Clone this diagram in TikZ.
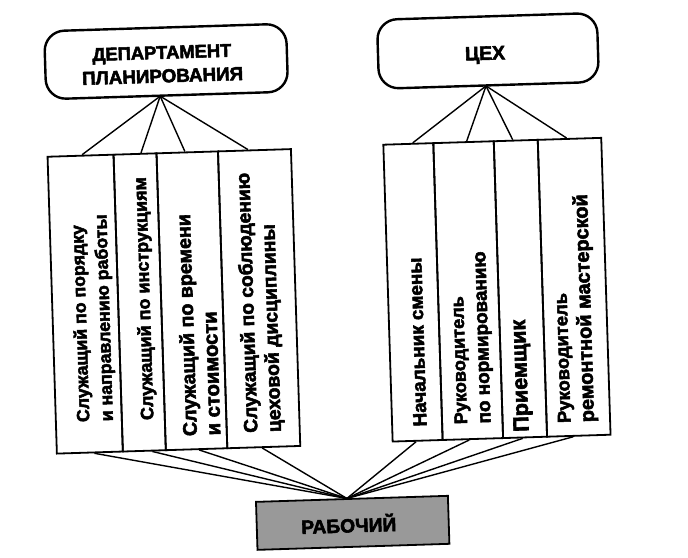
\documentclass[tikz,border=0pt]{standalone}
\usepackage{fontspec}
\setmainfont{Liberation Sans}[BoldFeatures={FakeBold=2.8}]
\newcommand\fitw[2]{\resizebox{#1pt}{!}{#2}}
\begin{document}
\begin{tikzpicture}[x=1pt,y=-1pt,
  topbox/.style={draw, line width=2.4pt, rounded corners=20pt, inner sep=0pt},
  toptext/.style={inner sep=0pt, align=center, font=\bfseries\fontsize{18}{23.7}\selectfont},
  col/.style={draw, line width=1.8pt, minimum height=297pt, inner sep=0pt},
  coltext/.style={rotate=90, anchor=west, align=left, inner sep=0pt,
    font=\bfseries\fontsize{18}{23.5}\selectfont},
  link/.style={line width=1.4pt},
  workbox/.style={draw, line width=1.8pt, fill=black!40, minimum width=192pt, minimum height=48pt,
    inner sep=0pt}]
\useasboundingbox (0,0) rectangle (688,557);
\begin{scope}[rotate around={1.8:(344,278)}, transform shape]
  % top boxes
  \node[topbox, minimum width=242pt, minimum height=68pt] (dp) at (173,56) {};
  \node[toptext] (dpt) at (169,58.8) {\fitw{139}{ДЕПАРТАМЕНТ}\\\fitw{161}{ПЛАНИРОВАНИЯ}};
  \node[topbox, minimum width=220pt, minimum height=69pt] (cx) at (495,55.5) {};
  \node[toptext, anchor=base] (cxt) at (492,64.4) {\fitw{40}{ЦЕХ}};
  \coordinate (dpb) at (166,90.5);
  \coordinate (cxb) at (492,90.5);
  % left columns
  \node[col, minimum width=66pt] (l1) at (84.5,296) {};
  \node[col, minimum width=43pt] (l2) at (139,296) {};
  \node[col, minimum width=61.5pt] (l3) at (191.25,296) {};
  \node[col, minimum width=73pt] (l4) at (258.5,296) {};
  % right columns
  \node[col, minimum width=50pt] (r1) at (412.5,294.5) {};
  \node[col, minimum width=60.5pt] (r2) at (467.75,294.5) {};
  \node[col, minimum width=44pt] (r3) at (520,294.5) {};
  \node[col, minimum width=63.5pt] (r4) at (573.75,294.5) {};
  % column texts
  \node[coltext] (t1) at (92,414) {\fitw{197}{Служащий по порядку}\\\fitw{207}{и направлению работы}};
  \node[coltext] (t2) at (144.3,414) {\fitw{243}{Служащий по инструкциям}};
  \node[coltext] (t3) at (196.6,431.4) {\fitw{222}{Служащий по времени}\\\fitw{124}{и стоимости}};
  \node[coltext] (t4) at (259.2,430) {\fitw{260}{Служащий по соблюдению}\\\fitw{208}{цеховой дисциплины}};
  \node[coltext] (t5) at (415.5,429) {\fitw{169}{Начальник смены}};
  \node[coltext] (t6) at (470,428) {\fitw{128}{Руководитель}\\\fitw{172}{по нормированию}};
  \node[coltext] (t7) at (518.5,437.5) {\fitw{112}{Приемщик}};
  \node[coltext] (t8) at (573.5,430) {\fitw{130}{Руководитель}\\\fitw{228}{ремонтной мастерской}};
  % worker
  \node[workbox] (rab) at (345,523) {};
  \node[toptext, anchor=base] (rabtxt) at (341,532.5) {\fitw{95}{РАБОЧИЙ}};
  \coordinate (rabc) at (340,498.5);
  % connectors from top boxes
  \draw[link] (dpb) -- ([xshift=1.5pt]l1.north);
  \draw[link] (dpb) -- ([xshift=6pt]l2.north);
  \draw[link] (dpb) -- ([xshift=-2.3pt]l3.north);
  \draw[link] (dpb) -- ([xshift=-6.5pt]l4.north);
  \draw[link] (cxb) -- ([xshift=4.5pt]r1.north);
  \draw[link] (cxb) -- ([xshift=3.2pt]r2.north);
  \draw[link] (cxb) -- ([xshift=-3pt]r3.north);
  \draw[link] (cxb) -- ([xshift=-2.8pt]r4.north);
  % connectors to worker
  \draw[link] ([xshift=4.5pt]l1.south) -- (rabc);
  \draw[link] ([xshift=8pt]l2.south) -- (rabc);
  \draw[link] ([xshift=2.7pt]l3.south) -- (rabc);
  \draw[link] ([xshift=-1.5pt]l4.south) -- (rabc);
  \draw[link] ([xshift=-1.5pt]r1.south) -- (rabc);
  \draw[link] ([xshift=-3.6pt]r2.south) -- (rabc);
  \draw[link] ([xshift=-2.3pt]r3.south) -- (rabc);
  \draw[link] ([xshift=-5.5pt]r4.south) -- (rabc);
\end{scope}
\end{tikzpicture}
\end{document}
